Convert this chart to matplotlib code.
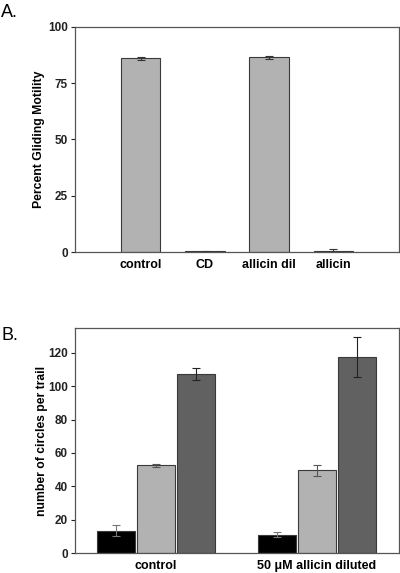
import numpy as np
import matplotlib.pyplot as plt

plt.rcParams['font.family'] = ['Liberation Sans', 'DejaVu Sans']

# Panel A data
cats_a = ['control', 'CD', 'allicin dil', 'allicin']
vals_a = [86.0, 0.3, 86.5, 0.5]
errs_a = [0.5, 0.2, 0.6, 0.8]

# Panel B data
groups_b = ['control', '50 μM allicin diluted']
serie1_b = [13.5, 11.0]
serie1_err = [3.4, 1.5]
serie2_b = [52.5, 49.5]
serie2_err = [0.7, 3.5]
serie3_b = [107.5, 117.5]
serie3_err = [3.5, 12.0]

gris_claro = '#b2b2b2'
gris_oscuro = '#616161'
borde = '#3a3a3a'

fig = plt.figure(figsize=(4, 5.73), dpi=100)

def estilo_ejes(ax):
    for s in ax.spines.values():
        s.set_color('#555555')
        s.set_linewidth(0.9)
    ax.tick_params(axis='y', direction='out', length=3, width=0.8, labelsize=8.5, pad=2, colors='#222222')
    ax.tick_params(axis='x', length=0, labelsize=9, pad=5)
    for t in ax.get_xticklabels() + ax.get_yticklabels():
        t.set_fontweight('bold')

# Panel A
ax1 = fig.add_axes([0.1875, 0.5602, 0.81, 0.3927])
x = np.arange(len(cats_a))
ax1.bar(x, vals_a, width=0.61, color=gris_claro, edgecolor=borde, linewidth=0.8,
        yerr=errs_a, error_kw=dict(ecolor='#333333', elinewidth=0.8, capsize=3, capthick=0.8))
ax1.set_xlim(-1.03, 4.03)
ax1.set_ylim(0, 100)
ax1.set_yticks([0, 25, 50, 75, 100])
ax1.set_xticks(x)
ax1.set_xticklabels(cats_a)
ax1.set_ylabel('Percent Gliding Motility', fontsize=8.8, fontweight='bold', labelpad=2)
estilo_ejes(ax1)
fig.text(0.003, 0.978, 'A.', fontsize=13, ha='left', va='center')

# Panel B
ax2 = fig.add_axes([0.1875, 0.0349, 0.81, 0.3927])
g = np.arange(len(groups_b))
paso = 0.248
ancho = 0.236
ek = dict(elinewidth=0.8, capsize=3, capthick=0.8)
ax2.bar(g - paso, serie1_b, width=ancho, color='black', edgecolor=borde, linewidth=0.8,
        yerr=serie1_err, error_kw=dict(ecolor='#777777', **ek))
ax2.bar(g, serie2_b, width=ancho, color=gris_claro, edgecolor=borde, linewidth=0.8,
        yerr=serie2_err, error_kw=dict(ecolor='#555555', **ek))
ax2.bar(g + paso, serie3_b, width=ancho, color=gris_oscuro, edgecolor=borde, linewidth=0.8,
        yerr=serie3_err, error_kw=dict(ecolor='#222222', **ek))
ax2.set_xlim(-0.503, 1.509)
ax2.set_ylim(0, 135)
ax2.set_yticks([0, 20, 40, 60, 80, 100, 120])
ax2.set_xticks(g)
ax2.set_xticklabels(groups_b)
ax2.set_ylabel('number of circles per trail', fontsize=8.7, fontweight='bold', labelpad=0)
estilo_ejes(ax2)
fig.text(0.003, 0.415, 'B.', fontsize=13, ha='left', va='center')

fig.savefig('out.png', dpi=100)
